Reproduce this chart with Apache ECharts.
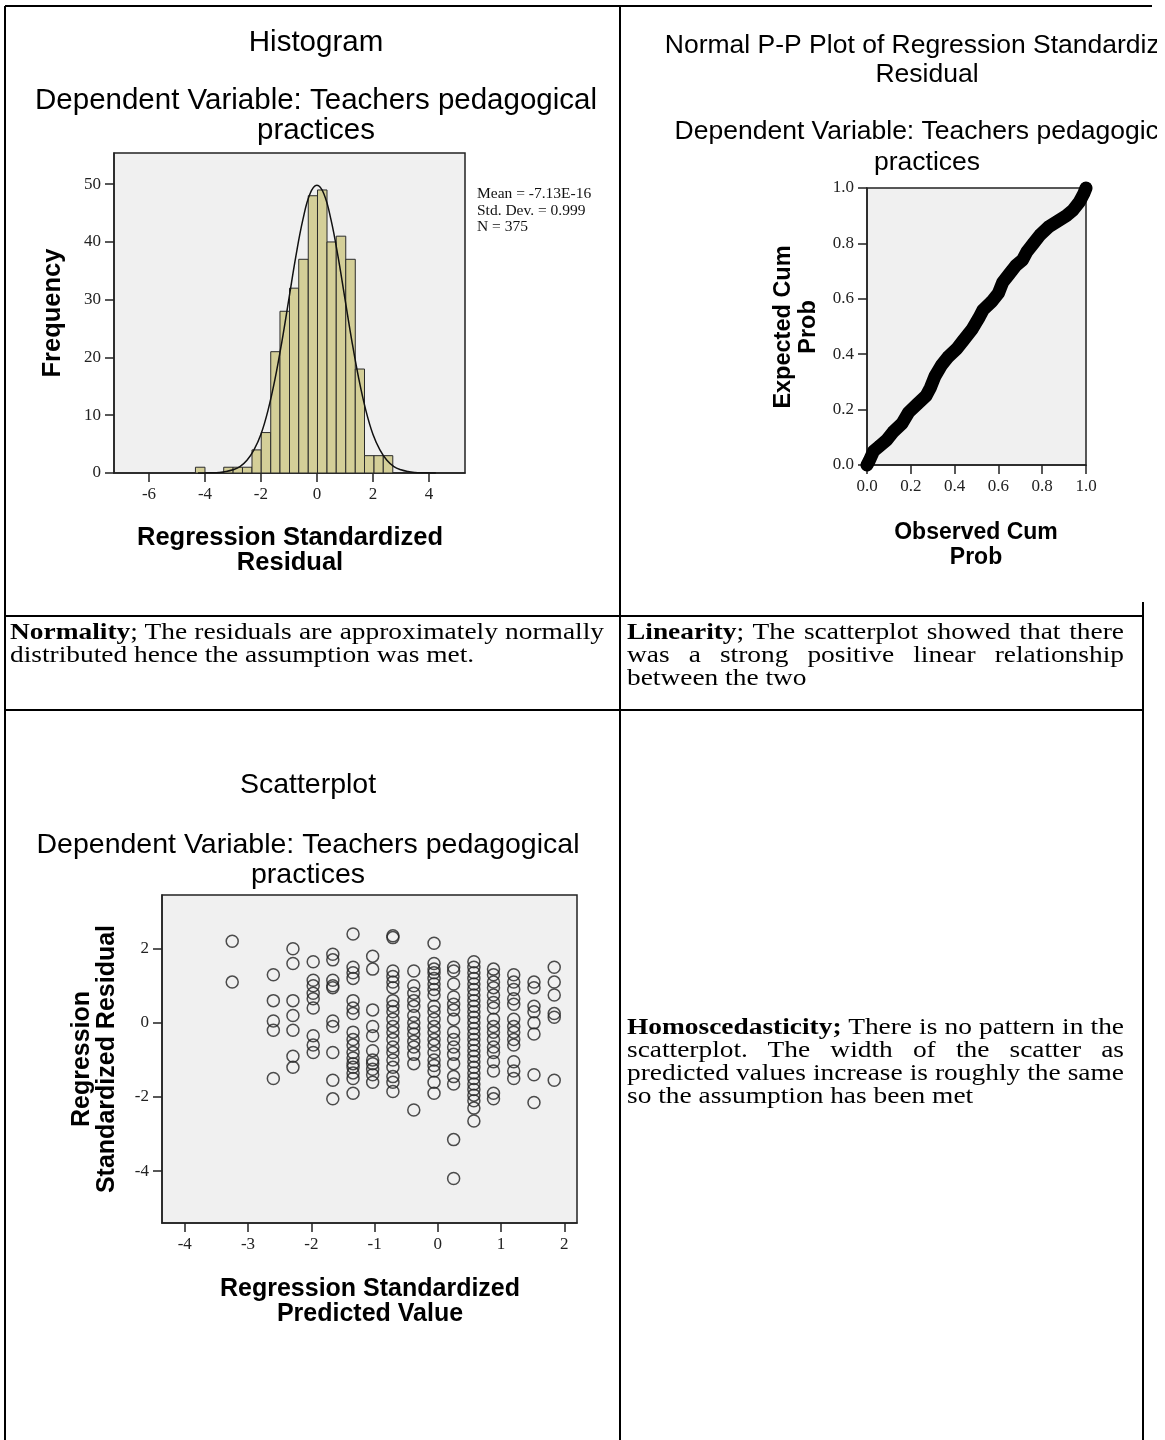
<!DOCTYPE html>
<html>
<head>
<meta charset="utf-8">
<title>Regression assumption checks</title>
<script src="https://cdn.jsdelivr.net/npm/echarts@6.0.0/dist/echarts.min.js"></script>
<style>
  html, body { margin: 0; padding: 0; background: #fff; }
  #page { position: relative; width: 1165px; height: 1440px; overflow: hidden; }
  #chart { position: absolute; left: 0; top: 0; width: 1157px; height: 1440px; }
  .note {
    position: absolute;
    font-family: "Liberation Serif", "Times New Roman", serif;
    font-size: 24px;
    line-height: 23px;
    color: #000;
    transform-origin: 0 0;
  }
  .note.just { text-align: justify; text-align-last: justify; }
</style>
</head>
<body>
<div id="page">
  <div id="chart"></div>
  <div id="notes"></div>
</div>
<script>
// histogram of standardized residuals
const histBinStart = [-4.34, -3.33, -2.995, -2.66, -2.32, -1.99, -1.65, -1.32, -0.98, -0.65, -0.31, 0.02, 0.36, 0.69, 1.03, 1.37, 1.70, 2.04, 2.37];
const histBinEnd = [-4.00, -2.995, -2.66, -2.32, -1.99, -1.65, -1.32, -0.98, -0.65, -0.31, 0.02, 0.36, 0.69, 1.03, 1.37, 1.70, 2.04, 2.37, 2.71];
const histCounts = [1, 1, 1, 1, 4, 7, 21, 28, 32, 37, 48, 49, 40, 41, 37, 18, 3, 3, 3];

// normal curve
const curveX = [-4.25, -4, -3.75, -3.5, -3.25, -3, -2.75, -2.5, -2.25, -2, -1.75, -1.5, -1.25, -1, -0.75, -0.5, -0.25, 0, 0.25, 0.5, 0.75, 1, 1.25, 1.5, 1.75, 2, 2.25, 2.5, 2.75, 3, 3.25, 3.5, 3.75, 4, 4.25];
const curveY = [0.01, 0.02, 0.04, 0.1, 0.25, 0.55, 1.1, 2.2, 4.0, 6.7, 10.8, 16.2, 22.8, 30.2, 37.6, 43.9, 48.3, 49.8, 48.3, 43.9, 37.6, 30.2, 22.8, 16.2, 10.8, 6.7, 4.0, 2.2, 1.1, 0.55, 0.25, 0.1, 0.04, 0.02, 0.01];

const histStats = ['Mean = -7.13E-16', 'Std. Dev. = 0.999', 'N = 375'];

// normal P-P plot
const ppObserved = [0.00, 0.01, 0.03, 0.06, 0.09, 0.12, 0.16, 0.19, 0.23, 0.27, 0.29, 0.31, 0.34, 0.37, 0.41, 0.44, 0.48, 0.51, 0.53, 0.57, 0.60, 0.62, 0.65, 0.68, 0.71, 0.73, 0.76, 0.79, 0.83, 0.87, 0.91, 0.94, 0.97, 0.99, 1.00];
const ppExpected = [0.00, 0.015, 0.05, 0.07, 0.09, 0.12, 0.15, 0.19, 0.22, 0.25, 0.28, 0.32, 0.36, 0.39, 0.42, 0.45, 0.49, 0.53, 0.56, 0.59, 0.62, 0.66, 0.69, 0.72, 0.74, 0.77, 0.80, 0.83, 0.86, 0.88, 0.90, 0.92, 0.95, 0.98, 1.00];

// scatterplot: predicted value columns and the residuals seen in each
const predCols = [-3.25, -2.6, -2.29, -1.97, -1.66, -1.34, -1.03, -0.71, -0.38, -0.06, 0.25, 0.57, 0.88, 1.20, 1.52, 1.84];
const residCols = [
  [2.2, 1.1],
  [1.3, 0.6, 0.05, -0.2, -1.5],
  [2.0, 1.6, 0.6, 0.2, -0.2, -0.9, -1.2],
  [1.65, 1.15, 1.0, 0.8, 0.65, 0.4, -0.35, -0.6, -0.8],
  [1.85, 1.7, 1.15, 1.0, 0.95, 0.05, -0.1, -0.8, -1.55, -2.05],
  [2.4, 1.5, 1.35, 1.2, 0.6, 0.4, 0.25, -0.25, -0.45, -0.6, -0.8, -0.95, -1.1, -1.2, -1.35, -1.5, -1.9],
  [1.8, 1.45, 0.35, -0.1, -0.35, -0.75, -1.0, -1.1, -1.25, -1.4, -1.6],
  [2.35, 2.3, 1.4, 1.25, 1.1, 0.95, 0.6, 0.45, 0.3, 0.1, -0.1, -0.25, -0.45, -0.65, -0.8, -1.0, -1.2, -1.45, -1.6, -1.85],
  [1.4, 1.0, 0.8, 0.6, 0.45, 0.2, 0.0, -0.15, -0.3, -0.5, -0.65, -0.85, -1.1, -2.35],
  [2.15, 1.6, 1.45, 1.35, 1.2, 1.05, 0.9, 0.75, 0.45, 0.3, 0.1, -0.1, -0.25, -0.45, -0.6, -0.8, -1.0, -1.15, -1.3, -1.6, -1.9],
  [1.5, 1.4, 1.05, 0.7, 0.5, 0.35, 0.1, -0.25, -0.45, -0.65, -0.85, -1.1, -1.45, -1.65, -3.15, -4.2],
  [1.65, 1.5, 1.35, 1.2, 1.05, 0.9, 0.75, 0.6, 0.45, 0.3, 0.15, 0.0, -0.15, -0.3, -0.45, -0.6, -0.75, -0.9, -1.05, -1.2, -1.35, -1.5, -1.65, -1.8, -1.95, -2.1, -2.3, -2.65],
  [1.45, 1.3, 1.1, 0.95, 0.75, 0.55, 0.4, 0.1, -0.1, -0.25, -0.45, -0.65, -0.8, -1.05, -1.3, -1.9, -2.05],
  [1.3, 1.1, 0.9, 0.65, 0.5, 0.1, -0.1, -0.25, -0.45, -0.6, -1.05, -1.3, -1.5],
  [1.1, 0.95, 0.45, 0.3, 0.0, -0.3, -1.4, -2.15],
  [1.5, 1.1, 0.75, 0.25, 0.15, -1.55]
];

// tick labels
const histXTicks = [-6, -4, -2, 0, 2, 4];
const histYTicks = [0, 10, 20, 30, 40, 50];
const ppTicks = [0, 0.2, 0.4, 0.6, 0.8, 1.0];
const scatXTicks = [-4, -3, -2, -1, 0, 1, 2];
const scatYTicks = [-4, -2, 0, 2];

const subTitle = 'Dependent Variable: Teachers pedagogical';

const SANS = '"Liberation Sans", Arial, sans-serif';
const SERIF = '"Liberation Serif", "Times New Roman", serif';

function valueAxis(gridIndex, min, max, ticks, formatter) {
  return {
    type: 'value',
    gridIndex: gridIndex,
    min: min,
    max: max,
    axisLine: { show: true, onZero: false, lineStyle: { color: '#222', width: 1.5 } },
    axisTick: { show: true, length: 9, customValues: ticks, lineStyle: { color: '#222', width: 1.5 } },
    axisLabel: { customValues: ticks, margin: 13, color: '#222', fontFamily: SERIF, fontSize: 17, formatter: formatter },
    splitLine: { show: false },
  };
}

function text(x, y, str, size, extra) {
  return Object.assign({
    type: 'text',
    x: x,
    y: y,
    silent: true,
    z: 50,
    style: {
      text: str,
      fontSize: size,
      fontFamily: SANS,
      fill: '#000',
      align: 'center',
      verticalAlign: 'middle',
      textAlign: 'center',
      textVerticalAlign: 'middle',
    },
  }, extra || {});
}

function boldText(x, y, str, size, rotate) {
  const el = text(x, y, str, size, rotate ? { rotation: Math.PI / 2 } : {});
  el.style.fontWeight = 'bold';
  el.style.lineHeight = 25;
  return el;
}

function rule(x1, y1, x2, y2) {
  return { type: 'line', z: 100, silent: true, shape: { x1: x1, y1: y1, x2: x2, y2: y2 }, style: { stroke: '#000', lineWidth: 2 } };
}

const gridStyle = { show: true, backgroundColor: '#f0f0f0', borderColor: '#222', borderWidth: 1.5 };

const scatterData = [];
predCols.forEach((x, i) => residCols[i].forEach((y) => scatterData.push([x, y])));

const chart = echarts.init(document.getElementById('chart'), null, { renderer: 'canvas' });

chart.setOption({
  animation: false,
  grid: [
    Object.assign({ left: 114, top: 153, width: 351, height: 320 }, gridStyle),
    Object.assign({ left: 867, top: 188, width: 219, height: 277 }, gridStyle),
    Object.assign({ left: 162, top: 895, width: 415, height: 328 }, gridStyle),
  ],
  xAxis: [
    valueAxis(0, -7.25, 5.29, histXTicks),
    valueAxis(1, 0, 1, ppTicks, (v) => v.toFixed(1)),
    valueAxis(2, -4.36, 2.2, scatXTicks),
  ],
  yAxis: [
    valueAxis(0, 0, 55.4, histYTicks),
    valueAxis(1, 0, 1, ppTicks, (v) => v.toFixed(1)),
    valueAxis(2, -5.4, 3.45, scatYTicks),
  ],
  series: [
    {
      type: 'custom',
      xAxisIndex: 0,
      yAxisIndex: 0,
      silent: true,
      data: histCounts.map((c, i) => [histBinStart[i], histBinEnd[i], c]),
      encode: { x: [0, 1], y: 2 },
      renderItem: (params, api) => {
        const topLeft = api.coord([api.value(0), api.value(2)]);
        const bottomRight = api.coord([api.value(1), 0]);
        return {
          type: 'rect',
          shape: { x: topLeft[0], y: topLeft[1], width: bottomRight[0] - topLeft[0], height: bottomRight[1] - topLeft[1] },
          style: { fill: '#d4cf98', stroke: '#2b2b2b', lineWidth: 1 },
        };
      },
      z: 2,
    },
    {
      type: 'line',
      xAxisIndex: 0,
      yAxisIndex: 0,
      data: curveX.map((x, i) => [x, curveY[i]]),
      smooth: 0.4,
      showSymbol: false,
      silent: true,
      lineStyle: { color: '#111', width: 1.5 },
      z: 3,
    },
    {
      type: 'line',
      xAxisIndex: 1,
      yAxisIndex: 1,
      data: ppObserved.map((x, i) => [x, ppExpected[i]]),
      symbol: 'circle',
      symbolSize: 12,
      showSymbol: true,
      clip: false,
      silent: true,
      itemStyle: { color: '#000' },
      lineStyle: { color: '#000', width: 13, cap: 'round', join: 'round' },
      z: 3,
    },
    {
      type: 'scatter',
      xAxisIndex: 2,
      yAxisIndex: 2,
      data: scatterData,
      symbol: 'circle',
      symbolSize: 12,
      silent: true,
      itemStyle: { color: 'rgba(0,0,0,0)', borderColor: '#222', borderWidth: 1.5 },
      z: 3,
    },
  ],
  graphic: [
    // histogram titles and axis names
    text(316, 43, 'Histogram', 29.5),
    text(316, 101, subTitle, 29.5),
    text(316, 131, 'practices', 29.5),
    boldText(290, 550, 'Regression Standardized\nResidual', 25.5, false),
    boldText(53, 313, 'Frequency', 25.5, true),
    {
      type: 'text', x: 477, y: 186, silent: true, z: 50,
      style: { text: histStats.join('\n'), fontSize: 15.5, fontFamily: SERIF, lineHeight: 16.5, fill: '#111', align: 'left', verticalAlign: 'top' },
    },
    // P-P titles and axis names
    text(927, 46, 'Normal P-P Plot of Regression Standardized', 26.5),
    text(927, 75, 'Residual', 26.5),
    text(927, 132, subTitle, 26.5),
    text(927, 163, 'practices', 26.5),
    boldText(976, 545, 'Observed Cum\nProb', 23, false),
    boldText(796, 327, 'Expected Cum\nProb', 23.5, true),
    // scatterplot titles and axis names
    text(308, 785, 'Scatterplot', 28.5),
    text(308, 845, subTitle, 28.5),
    text(308, 875, 'practices', 28.5),
    boldText(370, 1302, 'Regression Standardized\nPredicted Value', 25, false),
    boldText(95, 1059, 'Regression\nStandardized Residual', 25, true),
    // table rules
    rule(5, 6, 1152, 6),
    rule(5, 6, 5, 1440),
    rule(620, 6, 620, 1440),
    rule(1143, 602, 1143, 1440),
    rule(5, 616, 1143, 616),
    rule(5, 710, 1143, 710),
  ],
});

// cell texts of the table
const notes = [
  { left: 10, right: 604, baseline: 640, lines: [
    { bold: 'Normality', text: '; The residuals are approximately normally', just: true },
    { bold: '', text: 'distributed hence the assumption was met.', just: false },
  ] },
  { left: 627, right: 1124, baseline: 640, lines: [
    { bold: 'Linearity', text: '; The scatterplot showed that there', just: true },
    { bold: '', text: 'was a strong positive linear relationship', just: true },
    { bold: '', text: 'between the two', just: false },
  ] },
  { left: 627, right: 1124, baseline: 1035, lines: [
    { bold: 'Homoscedasticity;', text: ' There is no pattern in the', just: true },
    { bold: '', text: 'scatterplot. The width of the scatter as', just: true },
    { bold: '', text: 'predicted values increase is roughly the same', just: true },
    { bold: '', text: 'so the assumption has been met', just: false },
  ] },
];

const ctx = document.createElement('canvas').getContext('2d');
function naturalWidth(line) {
  ctx.font = 'bold 24px "Liberation Serif"';
  let w = ctx.measureText(line.bold).width;
  ctx.font = '24px "Liberation Serif"';
  return w + ctx.measureText(line.text).width;
}

let stretch = Infinity;
notes.forEach((n) => n.lines.forEach((l) => {
  if (l.just) stretch = Math.min(stretch, (n.right - n.left) / naturalWidth(l));
}));
stretch *= 0.998;

const holder = document.getElementById('notes');
notes.forEach((n) => {
  n.lines.forEach((l, i) => {
    const div = document.createElement('div');
    div.className = 'note' + (l.just ? ' just' : '');
    div.style.left = n.left + 'px';
    div.style.top = (n.baseline + i * 23 - 19.6) + 'px';
    div.style.width = ((n.right - n.left) / stretch) + 'px';
    div.style.transform = 'scaleX(' + stretch + ')';
    if (l.bold) {
      const b = document.createElement('b');
      b.textContent = l.bold;
      div.appendChild(b);
    }
    div.appendChild(document.createTextNode(l.text));
    holder.appendChild(div);
  });
});
</script>
</body>
</html>
